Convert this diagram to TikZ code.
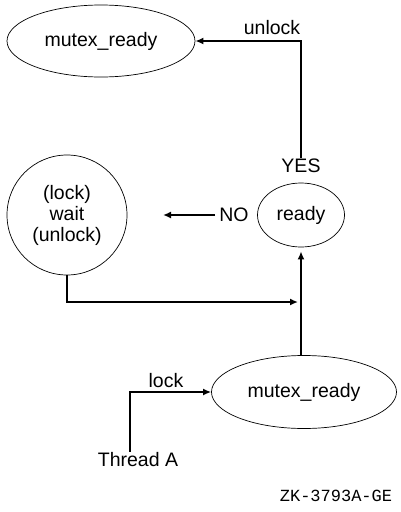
\documentclass[tikz,border=0pt]{standalone}
\usepackage{fontspec}
\setmainfont{Liberation Sans}
\setmonofont{Liberation Mono}
\usetikzlibrary{arrows.meta,positioning,shapes.geometric}

\begin{document}
\begin{tikzpicture}[
  x=1pt, y=-1pt,
  >={Latex[length=8pt,width=7pt]},
  every node/.style={font=\fontsize{19.5}{23}\selectfont},
  state/.style={draw, ellipse, line width=0.7pt, inner sep=0pt, align=center},
  link/.style={->, line width=1.6pt},
  tag/.style={inner sep=1pt},
]
\useasboundingbox (0,0) rectangle (400,512);

\node[state, minimum width=188pt, minimum height=72pt] (top) at (101,41) {mutex\_ready};
\node[state, circle, minimum size=120pt] (wait) at (67,215) {(lock)\\[-2pt]wait\\[-2pt](unlock)};
\node[state, minimum width=87pt, minimum height=64pt] (ready) at (301,215) {ready};
\node[state, minimum width=185pt, minimum height=73pt] (mutex) at (304,392) {mutex\_ready};

\node[tag] (yes) at (301,166) {YES};
\node[tag, inner sep=4pt] (no) at (234,215) {NO};
\node[tag] (thr) at (138,460) {Thread A};
\node[tag] (ul) at (272,28) {unlock};
\node[tag] (lk) at (166,381) {lock};
\node[font=\ttfamily\fontsize{17}{20}\selectfont] (id) at (336,496) {ZK-3793A-GE};

\coordinate (left) at (163,215);
\coordinate (join) at (298,302);

\draw[link] (yes.north) |- (top.east);
\draw[link] (no.west) -- (left);
\draw[link] (wait.south) |- (join);
\draw[link, shorten >=4pt] (mutex.north -| ready.south) -- (ready.south);
\draw[link] ([xshift=-8pt]thr.north) |- (mutex.west);
\end{tikzpicture}
\end{document}
